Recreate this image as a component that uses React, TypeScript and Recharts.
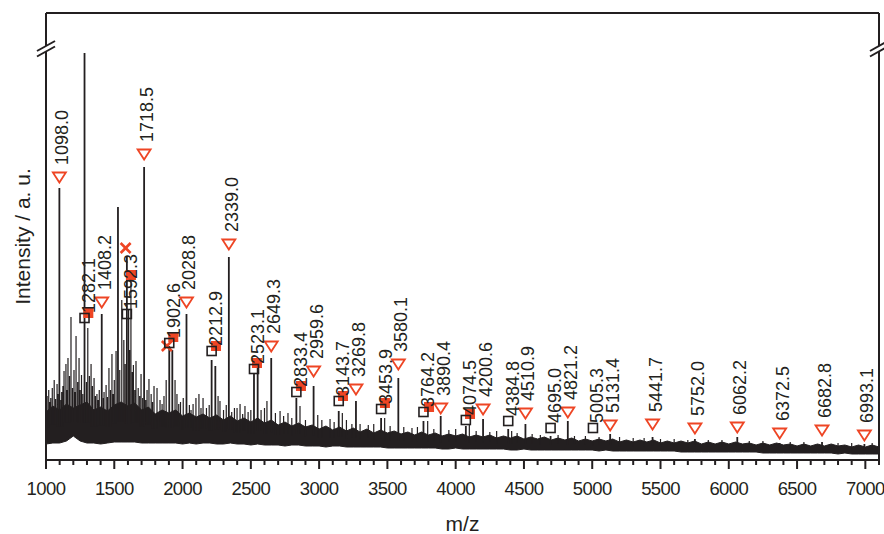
import React from 'react';
import { ComposedChart, XAxis, YAxis, Area, Line, Scatter, ReferenceLine } from 'recharts';

const INK = '#231f20';
const RED = '#ee4524';
const FONT = '"Liberation Sans", Arial, Helvetica, sans-serif';

const X_MIN = 1000;
const X_MAX = 7100;
const Y_MAX = 447;

const majorTicks = [1000, 1500, 2000, 2500, 3000, 3500, 4000, 4500, 5000, 5500, 6000, 6500, 7000];

// noise band of the spectrum: [m/z, low, high]
const band: number[][] = [
  [1000, 16, 48], [1050, 17, 54], [1100, 17, 50], [1150, 19, 56], [1200, 24, 52], [1250, 19, 55],
  [1300, 17, 58], [1350, 17, 50], [1400, 16, 53], [1450, 17, 49], [1500, 18, 55], [1550, 18, 58],
  [1600, 18, 54], [1650, 18, 57], [1700, 17, 50], [1750, 17, 53], [1800, 17, 46], [1850, 17, 50],
  [1900, 17, 47], [1950, 17, 50], [2000, 16, 44], [2050, 17, 47], [2100, 16, 43], [2150, 17, 46],
  [2200, 17, 42], [2250, 16, 45], [2300, 16, 40], [2350, 17, 44], [2400, 16, 39], [2450, 16, 42],
  [2500, 15, 38], [2550, 16, 42], [2600, 15, 37], [2650, 15, 40], [2700, 15, 35], [2750, 14, 38],
  [2800, 15, 34], [2850, 15, 37], [2900, 14, 33], [2950, 14, 35], [3000, 14, 31], [3050, 13, 34],
  [3100, 14, 30], [3150, 14, 33], [3200, 13, 29], [3250, 13, 32], [3300, 13, 28], [3350, 13, 31],
  [3400, 13, 27], [3450, 13, 30], [3500, 12, 27], [3550, 12, 29], [3600, 12, 26], [3650, 12, 28],
  [3700, 12, 25], [3750, 12, 28], [3800, 12, 25], [3850, 12, 27], [3900, 11, 24], [3950, 11, 26],
  [4000, 12, 24], [4050, 11, 26], [4100, 11, 23], [4150, 11, 25], [4200, 11, 23], [4250, 11, 25],
  [4300, 11, 22], [4350, 11, 24], [4400, 10, 22], [4450, 10, 24], [4500, 11, 21], [4550, 10, 23],
  [4600, 10, 21], [4650, 10, 23], [4700, 10, 20], [4750, 10, 22], [4800, 10, 20], [4850, 10, 22],
  [4900, 10, 19], [4950, 10, 21], [5000, 10, 19], [5050, 9, 21], [5100, 10, 19], [5150, 9, 21],
  [5200, 9, 18], [5250, 9, 20], [5300, 9, 18], [5350, 9, 20], [5400, 9, 18], [5450, 9, 20],
  [5500, 9, 17], [5550, 9, 19], [5600, 9, 17], [5650, 8, 19], [5700, 8, 17], [5750, 8, 19],
  [5800, 8, 16], [5850, 8, 18], [5900, 8, 16], [5950, 8, 18], [6000, 8, 16], [6050, 8, 18],
  [6100, 8, 16], [6150, 8, 17], [6200, 8, 15], [6250, 7, 17], [6300, 7, 15], [6350, 7, 17],
  [6400, 7, 15], [6450, 7, 16], [6500, 7, 14], [6550, 7, 16], [6600, 7, 14], [6650, 7, 16],
  [6700, 7, 14], [6750, 7, 16], [6800, 6, 14], [6850, 7, 15], [6900, 6, 13], [6950, 6, 15],
  [7000, 6, 13], [7050, 6, 15], [7100, 6, 13],
];

// main peaks: [m/z, intensity]
const peaks: number[][] = [
  [1098.0, 272], [1282.1, 407], [1408.2, 146], [1527, 253], [1592.3, 204], [1718.5, 293],
  [1902.6, 114], [1925, 110], [2028.8, 146], [2212.9, 100], [2240, 94], [2339.0, 203],
  [2523.1, 86], [2550, 92], [2649.3, 102], [2833.4, 62], [2959.6, 74], [3143.7, 49],
  [3269.8, 59], [3453.9, 42], [3580.1, 82], [3764.2, 39], [3890.4, 44], [4074.5, 34],
  [4200.6, 41], [4384.8, 31], [4510.9, 36], [4695.0, 24], [4821.2, 39], [5005.3, 19],
  [5131.4, 26], [5441.7, 23], [5752.0, 21], [6062.2, 23], [6372.5, 17], [6682.8, 18], [6993.1, 16],
];

// smaller peaks / grass: [m/z, intensity]
const grass: number[][] = [
  [1008, 64], [1020, 70], [1028, 58], [1035, 62], [1046, 72], [1060, 80], [1070, 61], [1081, 76],
  [1090, 66], [1108, 60], [1115, 68], [1124, 74], [1132, 89], [1146, 96], [1153, 70], [1161, 102],
  [1172, 84], [1183, 143], [1194, 72], [1205, 90], [1212, 68], [1220, 124], [1232, 78], [1242, 102],
  [1250, 70], [1260, 85], [1270, 66], [1296, 78], [1306, 132], [1318, 84], [1330, 96], [1340, 74],
  [1352, 82], [1362, 64], [1373, 66], [1382, 60], [1390, 70], [1418, 62], [1425, 68], [1440, 75],
  [1450, 63], [1461, 92], [1472, 70], [1483, 106], [1492, 66], [1500, 80], [1513, 109], [1540, 90],
  [1555, 160], [1570, 120], [1580, 96], [1605, 150], [1612, 110], [1622, 180], [1632, 88], [1640, 95],
  [1650, 70], [1659, 99], [1675, 72], [1686, 64], [1696, 86], [1708, 62], [1730, 60], [1740, 70],
  [1754, 81], [1770, 66], [1780, 58], [1791, 74], [1813, 72], [1835, 60], [1850, 56], [1864, 64],
  [1880, 80], [1945, 80], [1959, 66], [1972, 56], [1985, 58], [2005, 62], [2050, 55], [2062, 50],
  [2077, 56], [2098, 62], [2120, 66], [2135, 52], [2150, 62], [2175, 52], [2195, 55], [2260, 64],
  [2274, 59], [2300, 50], [2320, 55], [2360, 48], [2380, 52], [2399, 52], [2421, 56], [2440, 46],
  [2457, 54], [2480, 48], [2500, 50], [2575, 50], [2600, 52], [2618, 59], [2680, 47], [2714, 49],
  [2740, 44], [2772, 47], [2800, 42], [2860, 54], [2900, 40], [2990, 45], [3020, 40], [3080, 41],
  [3110, 38], [3170, 47], [3200, 40], [3240, 36], [3300, 36], [3360, 35], [3400, 36], [3480, 42],
  [3520, 34], [3620, 33], [3680, 32], [3720, 33], [3795, 39], [3840, 31], [3950, 30], [4000, 31],
  [4100, 36], [4150, 29], [4250, 28], [4300, 29], [4410, 29], [4450, 27], [4560, 26], [4620, 25],
  [4750, 25], [4870, 24], [4950, 24], [5050, 23], [5200, 23], [5300, 22], [5380, 22], [5500, 21],
  [5600, 21], [5700, 20], [5850, 20], [5950, 20], [6150, 19], [6250, 19], [6450, 18], [6550, 18],
  [6800, 17], [6900, 17], [7050, 17],
];

// annotation markers: [m/z, intensity]
const triangles: number[][] = [
  [1098.0, 283], [1408.2, 158], [1718.5, 306], [2028.8, 158], [2339.0, 216], [2649.3, 114],
  [2959.6, 89], [3269.8, 71], [3580.1, 96], [3890.4, 52], [4200.6, 51], [4510.9, 47],
  [4821.2, 48], [5131.4, 35], [5441.7, 36], [5752.0, 32], [6062.2, 33], [6372.5, 27],
  [6682.8, 30], [6993.1, 25],
];
const squares: number[][] = [
  [1282.1, 142], [1592.3, 146], [1902.6, 117], [2212.9, 109], [2523.1, 91], [2833.4, 68],
  [3143.7, 59], [3453.9, 51], [3764.2, 48], [4074.5, 40], [4384.8, 39], [4695.0, 32], [5005.3, 32],
];
const filledSquares: number[][] = [
  [1310, 147], [1622, 185], [1932, 123], [2245, 114], [2545, 97], [2867, 74], [3175, 64],
  [3482, 57], [3805, 53], [4105, 46],
];
const crosses: number[][] = [[1583, 212], [1885, 114]];

// frame with axis breaks (data units)
const BREAK_LOW = 408.5;
const BREAK_HIGH = 414;
const SLASH_DX = 66;

const bandData = band.map(([mz, lo, hi]) => ({ mz, range: [lo, hi] }));

const baseAt = (mz: number) => {
  let best = band[0];
  for (const r of band) if (Math.abs(r[0] - mz) < Math.abs(best[0] - mz)) best = r;
  return (best[1] + best[2]) / 2;
};

const sticks = (list: number[][]) => {
  const out: any[] = [];
  list.forEach(([mz, v]) => {
    const b = baseAt(mz);
    out.push({ mz, v: b }, { mz, v }, { mz, v: null });
  });
  return out;
};

const peakData = sticks(peaks);
const grassData = sticks(grass);
const toPts = (list: number[][]) => list.map(([mz, v]) => ({ mz, v, label: mz.toFixed(1) }));

const minorTicks: number[] = [];
for (let t = X_MIN; t <= X_MAX; t += 100) minorTicks.push(t);

const XTick = (props: any) => {
  const { x, y, payload } = props;
  const v = payload.value;
  const major = majorTicks.includes(v);
  return (
    <g>
      <line x1={x} x2={x} y1={y} y2={y + (major ? 9 : 5)} stroke={INK} strokeWidth={2} />
      {major && (
        <text
          x={x}
          y={y + 35}
          textAnchor="middle"
          fontSize={18.5}
          letterSpacing={-0.6}
          fontFamily={FONT}
          fill={INK}
        >
          {v}
        </text>
      )}
    </g>
  );
};

const Label = ({ x, y, text }: { x: number; y: number; text: string }) => (
  <text
    transform={`translate(${x},${y}) rotate(-90)`}
    textAnchor="start"
    dominantBaseline="central"
    fontSize={18}
    fontFamily={FONT}
    fill={INK}
  >
    {text}
  </text>
);

const TriangleShape = (p: any) => {
  const { cx, cy, payload } = p;
  return (
    <g>
      <path
        d={`M${cx - 6.5},${cy - 4.5} L${cx + 6.5},${cy - 4.5} L${cx},${cy + 5.5} Z`}
        fill="#fff"
        stroke={RED}
        strokeWidth={1.8}
        strokeLinejoin="miter"
      />
      <Label x={cx + 3} y={cy - 12} text={payload.label} />
    </g>
  );
};

const SquareShape = (p: any) => {
  const { cx, cy, payload } = p;
  return (
    <g>
      <rect x={cx - 4.5} y={cy - 4.5} width={9} height={9} fill="none" stroke={INK} strokeWidth={1.6} />
      <Label x={cx + 4.5} y={cy - 5} text={payload.label} />
    </g>
  );
};

const FilledSquareShape = (p: any) => {
  const { cx, cy } = p;
  return <rect x={cx - 5} y={cy - 5} width={10} height={10} fill={RED} />;
};

const CrossShape = (p: any) => {
  const { cx, cy } = p;
  return (
    <g stroke={RED} strokeWidth={2.6}>
      <line x1={cx - 5} y1={cy - 5} x2={cx + 5} y2={cy + 5} />
      <line x1={cx - 5} y1={cy + 5} x2={cx + 5} y2={cy - 5} />
    </g>
  );
};

const frameLine = { stroke: INK, strokeWidth: 2, ifOverflow: 'visible' as const };

export default function App() {
  return (
    <div style={{ position: 'absolute', left: 0, top: 0, width: 884, height: 534, background: '#fff' }}>
      <ComposedChart width={884} height={534} margin={{ top: 13, right: 5, bottom: 0, left: 0 }}>
        <XAxis
          dataKey="mz"
          type="number"
          domain={[X_MIN, X_MAX]}
          allowDataOverflow
          ticks={minorTicks}
          interval={0}
          tick={<XTick />}
          tickLine={false}
          tickSize={0}
          tickMargin={0}
          axisLine={{ stroke: INK, strokeWidth: 2 }}
          height={74}
          label={{ value: 'm/z', position: 'insideBottom', offset: 3, fontSize: 21, fontFamily: FONT, fill: INK }}
        />
        <YAxis
          type="number"
          dataKey="v"
          domain={[0, Y_MAX]}
          allowDataOverflow
          width={46}
          axisLine={false}
          tickLine={false}
          tick={false}
          label={{
            value: 'Intensity / a. u.',
            angle: -90,
            position: 'center',
            fontSize: 21,
            fontFamily: FONT,
            fill: INK,
          }}
        />
        <Area
          data={bandData}
          dataKey="range"
          type="linear"
          stroke={INK}
          strokeWidth={1}
          fill={INK}
          fillOpacity={1}
          isAnimationActive={false}
          dot={false}
          activeDot={false}
        />
        <Line
          data={grassData}
          dataKey="v"
          type="linear"
          stroke={INK}
          strokeWidth={1.2}
          dot={false}
          activeDot={false}
          connectNulls={false}
          isAnimationActive={false}
        />
        <Line
          data={peakData}
          dataKey="v"
          type="linear"
          stroke={INK}
          strokeWidth={1.8}
          dot={false}
          activeDot={false}
          connectNulls={false}
          isAnimationActive={false}
        />
        <Scatter data={toPts(filledSquares)} dataKey="v" shape={FilledSquareShape} isAnimationActive={false} />
        <Scatter data={toPts(crosses)} dataKey="v" shape={CrossShape} isAnimationActive={false} />
        <Scatter data={toPts(triangles)} dataKey="v" shape={TriangleShape} isAnimationActive={false} />
        <Scatter data={toPts(squares)} dataKey="v" shape={SquareShape} isAnimationActive={false} />

        {/* top frame */}
        <ReferenceLine segment={[{ x: X_MIN, y: Y_MAX }, { x: X_MAX, y: Y_MAX }]} {...frameLine} />
        {/* left frame with break */}
        <ReferenceLine segment={[{ x: X_MIN, y: 0 }, { x: X_MIN, y: BREAK_LOW }]} {...frameLine} />
        <ReferenceLine segment={[{ x: X_MIN, y: BREAK_HIGH }, { x: X_MIN, y: Y_MAX }]} {...frameLine} />
        <ReferenceLine segment={[{ x: X_MIN - SLASH_DX, y: BREAK_HIGH - 5 }, { x: X_MIN + SLASH_DX, y: BREAK_HIGH + 5 }]} {...frameLine} />
        <ReferenceLine segment={[{ x: X_MIN - SLASH_DX, y: BREAK_LOW - 5 }, { x: X_MIN + SLASH_DX, y: BREAK_LOW + 5 }]} {...frameLine} />
        {/* right frame with break */}
        <ReferenceLine segment={[{ x: X_MAX, y: 0 }, { x: X_MAX, y: BREAK_LOW }]} {...frameLine} />
        <ReferenceLine segment={[{ x: X_MAX, y: BREAK_HIGH }, { x: X_MAX, y: Y_MAX }]} {...frameLine} />
        <ReferenceLine segment={[{ x: X_MAX - SLASH_DX, y: BREAK_HIGH - 5 }, { x: X_MAX + SLASH_DX, y: BREAK_HIGH + 5 }]} {...frameLine} />
        <ReferenceLine segment={[{ x: X_MAX - SLASH_DX, y: BREAK_LOW - 5 }, { x: X_MAX + SLASH_DX, y: BREAK_LOW + 5 }]} {...frameLine} />
      </ComposedChart>
    </div>
  );
}
